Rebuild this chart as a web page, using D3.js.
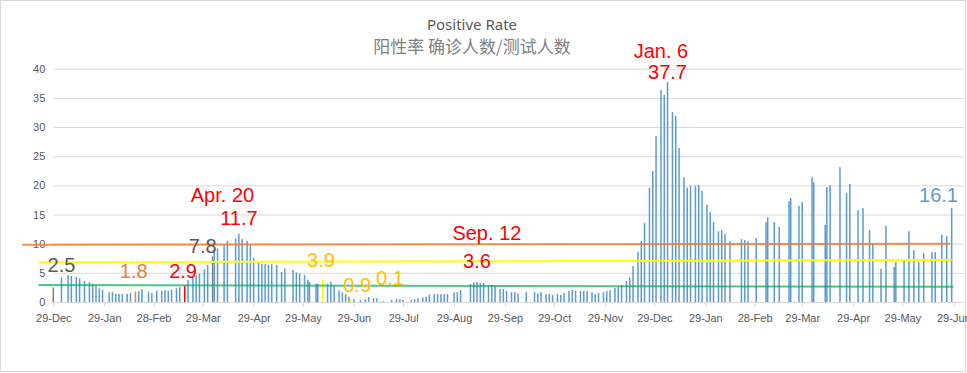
<!DOCTYPE html>
<html>
<head>
<meta charset="utf-8">
<script src="https://cdn.jsdelivr.net/npm/d3@7"></script>
<style>
  body { margin: 0; background: #fff; }
  svg { display: block; }
  text { font-family: "Liberation Sans", Arial, sans-serif; }
</style>
</head>
<body>
<svg class="chart"></svg>
<script>
// positive rate (%), one bar per reporting day
var barDates = [
  "2019-12-29", "2020-01-03", "2020-01-07", "2020-01-09", "2020-01-12", "2020-01-14", "2020-01-17", "2020-01-20",
  "2020-01-22", "2020-01-24", "2020-01-26", "2020-01-28", "2020-02-01", "2020-02-03", "2020-02-05", "2020-02-07",
  "2020-02-09", "2020-02-12", "2020-02-14", "2020-02-17", "2020-02-19", "2020-02-21", "2020-02-25", "2020-02-27",
  "2020-03-01", "2020-03-04", "2020-03-06", "2020-03-08", "2020-03-10", "2020-03-13", "2020-03-15", "2020-03-18",
  "2020-03-20", "2020-03-23", "2020-03-25", "2020-03-27", "2020-03-30", "2020-04-01", "2020-04-04", "2020-04-05",
  "2020-04-07", "2020-04-11", "2020-04-13", "2020-04-18", "2020-04-20", "2020-04-22", "2020-04-25", "2020-04-27",
  "2020-04-29", "2020-05-02", "2020-05-04", "2020-05-06", "2020-05-08", "2020-05-10", "2020-05-13", "2020-05-16",
  "2020-05-18", "2020-05-23", "2020-05-25", "2020-05-27", "2020-05-30", "2020-06-01", "2020-06-02", "2020-06-06",
  "2020-06-07", "2020-06-10", "2020-06-13", "2020-06-15", "2020-06-17", "2020-06-20", "2020-06-22", "2020-06-24",
  "2020-06-26", "2020-06-27", "2020-06-29", "2020-07-03", "2020-07-06", "2020-07-08", "2020-07-11", "2020-07-13",
  "2020-07-15", "2020-07-17", "2020-07-22", "2020-07-25", "2020-07-27", "2020-07-29", "2020-08-03", "2020-08-05",
  "2020-08-07", "2020-08-10", "2020-08-12", "2020-08-14", "2020-08-17", "2020-08-19", "2020-08-21", "2020-08-23",
  "2020-08-25", "2020-08-29", "2020-08-31", "2020-09-02", "2020-09-08", "2020-09-10", "2020-09-12", "2020-09-14",
  "2020-09-16", "2020-09-19", "2020-09-21", "2020-09-23", "2020-09-26", "2020-09-28", "2020-09-30", "2020-10-03",
  "2020-10-05", "2020-10-07", "2020-10-12", "2020-10-17", "2020-10-19", "2020-10-21", "2020-10-24", "2020-10-26",
  "2020-10-28", "2020-10-31", "2020-11-02", "2020-11-04", "2020-11-07", "2020-11-09", "2020-11-11", "2020-11-14",
  "2020-11-16", "2020-11-18", "2020-11-21", "2020-11-23", "2020-11-25", "2020-11-28", "2020-11-30", "2020-12-02",
  "2020-12-05", "2020-12-07", "2020-12-09", "2020-12-12", "2020-12-14", "2020-12-16", "2020-12-19", "2020-12-21",
  "2020-12-23", "2020-12-26", "2020-12-28", "2020-12-30", "2021-01-02", "2021-01-04", "2021-01-06", "2021-01-09",
  "2021-01-11", "2021-01-13", "2021-01-16", "2021-01-18", "2021-01-20", "2021-01-23", "2021-01-25", "2021-01-27",
  "2021-01-30", "2021-02-01", "2021-02-03", "2021-02-06", "2021-02-08", "2021-02-10", "2021-02-13", "2021-02-20",
  "2021-02-22", "2021-02-24", "2021-03-01", "2021-03-07", "2021-03-08", "2021-03-12", "2021-03-15", "2021-03-21",
  "2021-03-22", "2021-03-27", "2021-03-29", "2021-04-04", "2021-04-05", "2021-04-12", "2021-04-13", "2021-04-15",
  "2021-04-21", "2021-04-25", "2021-04-27", "2021-05-02", "2021-05-05", "2021-05-09", "2021-05-11", "2021-05-16",
  "2021-05-19", "2021-05-24", "2021-05-25", "2021-05-30", "2021-06-02", "2021-06-05", "2021-06-08", "2021-06-11",
  "2021-06-16", "2021-06-18", "2021-06-22", "2021-06-25", "2021-06-28"
];

var barValues = [
  2.5, 4.2, 4.6, 4.45, 4.3, 4.05, 3.6, 3.4,
  3.15, 2.85, 2.35, 2.1, 1.7, 1.7, 1.4, 1.4,
  1.4, 1.4, 1.55, 1.8, 1.85, 2.2, 1.7, 1.55,
  1.95, 1.95, 2.05, 1.95, 2.1, 2.35, 2.55, 2.8,
  3.75, 4.3, 4.6, 4.9, 5.6, 6.35, 7.8, 9.0,
  9.2, 9.8, 10.5, 10.9, 11.7, 10.8, 10.5, 9.7,
  7.6, 6.8, 6.5, 6.5, 6.35, 6.5, 6.35, 5.15,
  5.75, 5.5, 5.05, 4.85, 4.65, 3.85, 3.45, 3.15,
  3.1, 3.8, 3.1, 3.45, 2.8, 2.0, 1.65, 1.35,
  0.9, 0.6, 0.5, 0.35, 0.5, 0.85, 0.65, 0.65,
  0.15, 0.15, 0.35, 0.5, 0.5, 0.35, 0.35, 0.5,
  0.65, 0.75, 0.9, 1.3, 1.35, 1.35, 1.35, 1.35,
  1.35, 1.65, 1.7, 2.05, 3.1, 3.35, 3.45, 3.25,
  3.25, 2.9, 2.9, 2.7, 2.25, 2.25, 1.9, 1.7,
  1.7, 1.5, 1.7, 1.7, 1.5, 1.7, 1.35, 1.35,
  1.2, 1.35, 1.2, 1.55, 1.9, 2.05, 1.9, 1.9,
  1.9, 1.9, 1.7, 1.35, 1.55, 1.7, 1.9, 2.05,
  2.4, 2.6, 2.9, 3.6, 4.2, 6.15, 8.6, 10.45,
  13.55, 19.6, 22.45, 28.45, 36.35, 35.5, 37.7, 32.55,
  31.9, 26.4, 21.4, 19.6, 19.9, 19.9, 20.05, 19.05,
  16.65, 15.45, 13.7, 12.15, 12.35, 11.65, 10.45, 10.8,
  10.65, 10.45, 10.95, 13.7, 14.55, 13.7, 12.85, 17.3,
  17.85, 16.45, 17.15, 21.45, 20.55, 13.2, 19.7, 20.05,
  23.15, 18.7, 20.25, 15.75, 16.1, 12.35, 9.95, 5.65,
  13.05, 6.0, 6.85, 7.2, 12.15, 8.9, 6.85, 8.4,
  8.55, 8.55, 11.5, 11.3, 16.1
];

var yTicks = [0, 5, 10, 15, 20, 25, 30, 35, 40];

var xTickDates = [
  "2019-12-29", "2020-01-29", "2020-02-28", "2020-03-29", "2020-04-29", "2020-05-29", "2020-06-29",
  "2020-07-29", "2020-08-29", "2020-09-29", "2020-10-29", "2020-11-29", "2020-12-29", "2021-01-29",
  "2021-02-28", "2021-03-29", "2021-04-29", "2021-05-29", "2021-06-29"
];
var xTickLabels = [
  "29-Dec", "29-Jan", "28-Feb", "29-Mar", "29-Apr", "29-May", "29-Jun",
  "29-Jul", "29-Aug", "29-Sep", "29-Oct", "29-Nov", "29-Dec", "29-Jan",
  "28-Feb", "29-Mar", "29-Apr", "29-May", "29-Jun"
];

// reference levels drawn across the chart
var refStartDates = ["2019-12-10", "2019-12-20", "2019-12-20"];
var refEndDates = ["2021-06-27", "2021-06-28", "2021-06-29"];
var refStartValues = [9.8, 6.8, 2.9];
var refEndValues = [10.0, 7.2, 2.6];

// callouts: text, anchor date, anchor value (baseline of text)
var noteTexts = ["2.5", "1.8", "2.9", "7.8", "Apr. 20", "11.7", "3.9", "0.9", "0.1", "Sep. 12", "3.6", "Jan. 6", "37.7", "16.1"];
var noteDates = ["2020-01-03", "2020-02-16", "2020-03-17", "2020-03-29", "2020-04-10", "2020-04-20", "2020-06-09",
                 "2020-07-01", "2020-07-21", "2020-09-18", "2020-09-12", "2021-01-02", "2021-01-06", "2021-06-20"];
var noteValues = [5.15, 4.1, 4.1, 8.4, 17.15, 13.2, 6.0, 1.7, 2.9, 10.6, 5.8, 41.9, 38.3, 17.15];

// ---- styles ----
var width = 967, height = 373;
var plot = {left: 53.3, right: 953.3, edge: 964, top: 68.7, bottom: 302};
var barColor = "#5B9BD5";
var highlight = {
  "2019-12-29": "#7F7F7F", "2020-04-04": "#7F7F7F", "2020-02-17": "#ED7D31", "2020-03-18": "#FF0000",
  "2020-06-10": "#FFFF00", "2020-06-27": "#FFFF00", "2020-07-15": "#FFFF00"
};
var refColors = ["#ED7D31", "#FFFF00", "#00B050"];
var refOpacity = [0.85, 1, 0.7];
var noteColors = ["#595959", "#ED7D31", "#FF0000", "#595959", "#FF0000", "#FF0000", "#FFC000",
                  "#FFC000", "#FFC000", "#FF0000", "#FF0000", "#FF0000", "#FF0000", "#5B9BD5"];

var parse = d3.utcParse("%Y-%m-%d");

var x = d3.scaleUtc()
    .domain([parse("2019-12-29"), parse("2021-06-29")])
    .range([plot.left, plot.right]);

var y = d3.scaleLinear()
    .domain([0, 40])
    .range([plot.bottom, plot.top]);

var svg = d3.select(".chart")
    .attr("width", width)
    .attr("height", height);

svg.append("rect")
    .attr("x", 0.5).attr("y", 0.5)
    .attr("width", width - 2).attr("height", height - 2)
    .attr("fill", "#fff")
    .attr("stroke", "#D9D9D9");

// titles
svg.append("text")
    .attr("x", 472).attr("y", 30)
    .attr("text-anchor", "middle")
    .style("font-family", "'Noto Sans', sans-serif")
    .style("font-size", "15px")
    .attr("fill", "#595959")
    .text("Positive Rate");

svg.append("text")
    .attr("x", 472).attr("y", 53)
    .attr("text-anchor", "middle")
    .style("font-family", "'Noto Sans CJK SC', sans-serif")
    .style("font-size", "17px")
    .attr("fill", "#808080")
    .text("阳性率 确诊人数/测试人数");

// Y grid + labels
var yAxis = d3.axisLeft(y)
    .tickValues(yTicks)
    .tickSize(-(plot.edge - plot.left))
    .tickPadding(8);

svg.append("g")
    .attr("transform", "translate(" + plot.left + ",0)")
    .call(yAxis)
    .call(function(g) {
        g.select(".domain").remove();
        g.selectAll(".tick line").attr("stroke", "#D9D9D9");
        g.selectAll(".tick text").attr("fill", "#595959").style("font-size", "11px");
    });

// X axis
var xAxis = d3.axisBottom(x)
    .tickValues(xTickDates.map(parse))
    .tickFormat(function(d, i) { return xTickLabels[i]; })
    .tickSize(5)
    .tickSizeOuter(0)
    .tickPadding(7);

svg.append("g")
    .attr("transform", "translate(0," + plot.bottom + ")")
    .call(xAxis)
    .call(function(g) {
        g.select(".domain").remove();
        g.selectAll(".tick line").attr("stroke", "#D9D9D9");
        g.selectAll(".tick text").attr("fill", "#595959").style("font-size", "11px");
    });

svg.append("line")
    .attr("x1", plot.left).attr("x2", plot.edge)
    .attr("y1", plot.bottom + 0.5).attr("y2", plot.bottom + 0.5)
    .attr("stroke", "#D9D9D9");

// bars
svg.append("g")
    .selectAll("rect")
    .data(barDates)
    .enter().append("rect")
    .attr("x", function(d) { return x(parse(d)) - 0.75; })
    .attr("width", 1.5)
    .attr("y", function(d, i) { return y(barValues[i]); })
    .attr("height", function(d, i) { return y(0) - y(barValues[i]); })
    .attr("fill", function(d) { return highlight[d] || barColor; });

// reference lines
svg.append("g")
    .selectAll("line")
    .data(refStartDates)
    .enter().append("line")
    .attr("x1", function(d) { return x(parse(d)); })
    .attr("x2", function(d, i) { return x(parse(refEndDates[i])); })
    .attr("y1", function(d, i) { return y(refStartValues[i]); })
    .attr("y2", function(d, i) { return y(refEndValues[i]); })
    .attr("stroke", function(d, i) { return refColors[i]; })
    .attr("stroke-opacity", function(d, i) { return refOpacity[i]; })
    .attr("stroke-width", 2);

// callouts
svg.append("g")
    .selectAll("text")
    .data(noteTexts)
    .enter().append("text")
    .attr("x", function(d, i) { return x(parse(noteDates[i])); })
    .attr("y", function(d, i) { return y(noteValues[i]); })
    .attr("text-anchor", "middle")
    .style("font-size", "20px")
    .attr("fill", function(d, i) { return noteColors[i]; })
    .text(function(d) { return d; });
</script>
</body>
</html>
